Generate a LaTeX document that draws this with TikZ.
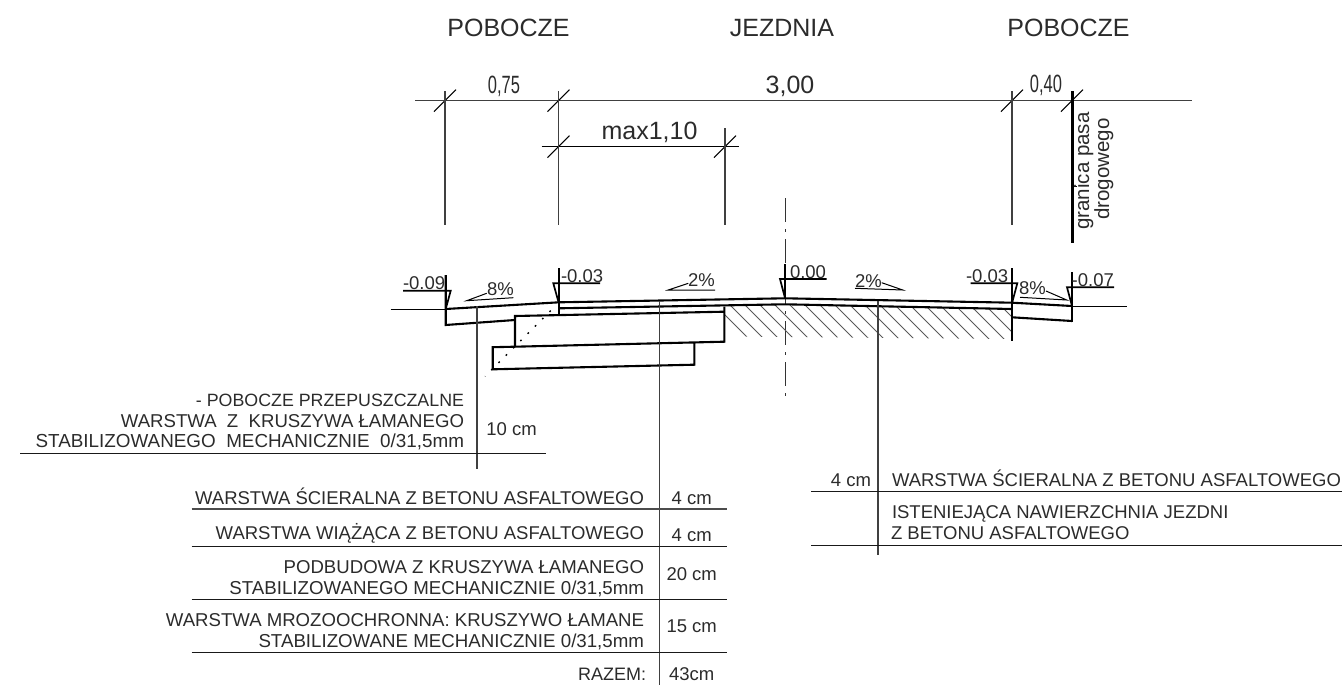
\documentclass[tikz,border=0pt]{standalone}
\usepackage{fontspec}
\setmainfont{Liberation Sans}
\usetikzlibrary{calc}
\definecolor{ink}{gray}{0.17}
\tikzset{
  thick line/.style={line width=2.1pt,black,line join=miter,line cap=butt},
  thin line/.style={line width=1.1pt,black!75},
  row line/.style={line width=1.2pt,black!90},
  hatch/.style={line width=0.8pt,black!65},
  txt/.style={inner sep=0pt,outer sep=0pt,text=ink,font=\fontsize{18.5}{22}\selectfont},
  big/.style={txt,font=\fontsize{25}{30}\selectfont},
  marks/.style={line width=1pt,black},
  level/.style={line width=1.7pt,black},
}
\newcommand{\tick}[1]{\draw[thin line,black] ($(#1)+(-11,11)$) -- ($(#1)+(11,-11)$);}
\newcommand{\fsz}[1]{\fontsize{#1}{22}\selectfont}
\begin{document}
\begin{tikzpicture}[x=1pt,y=-1pt]
\useasboundingbox (0,0) rectangle (1344,685);
% headings
\node[big,anchor=base] (h1) at (508.5,37) {POBOCZE};
\node[big,anchor=base] (h2) at (782,37) {JEZDNIA};
\node[big,anchor=base] (h3) at (1068.5,37) {POBOCZE};
% dimension lines
\coordinate (d1) at (445,100.7);
\coordinate (d2) at (558.5,100.7);
\coordinate (d3) at (1012,100.7);
\coordinate (d4) at (1072,100.7);
\coordinate (e1) at (558.5,146.7);
\coordinate (e2) at (725,146.7);
\draw[thin line] (415,100.7) -- (1192,100.7);
\draw[thin line,black] (541.5,146.7) -- (739,146.7);
\tick{d1}\tick{d2}\tick{d3}\tick{d4}\tick{e1}\tick{e2}
\draw[thin line] (445,91) -- (445,225);
\draw[thin line] (558.5,91) -- (558.5,225);
\draw[thin line] (725,128) -- (725,225);
\draw[thin line] (1012,91) -- (1012,225);
\draw[line width=2.1pt,black] (1072.5,91) -- (1072.5,243);
\draw[line width=1pt,black] (1072.5,186) -- (1077,186);
\node[txt,anchor=base,font=\fsz{25}] (l075) at (504,93) {\scalebox{0.66}[1]{0,75}};
\node[big,anchor=base] (l300) at (790,93) {3,00};
\node[txt,anchor=base,font=\fsz{25}] (l040) at (1046,92.7) {\scalebox{0.66}[1]{0,40}};
\node[big,anchor=base] (l110) at (649.5,139) {max1,10};
\node[txt,anchor=base,rotate=90,font=\fsz{20.5}] (g1) at (1089,171) {granica pasa};
\node[txt,anchor=base,rotate=90,font=\fsz{20.5}] (g2) at (1109,169) {drogowego};
% centre line
\draw[line width=1.1pt,black!80,dash pattern=on 24pt off 7pt on 3pt off 7pt] (785.3,198) -- (785.3,398);
% hatching
\begin{scope}
\clip (724.5,305) -- (785,304.3) -- (1012,309) -- (1012,339) -- (724.5,336.5) -- cycle;
\foreach \k in {-5,...,15} {
  \draw[hatch] ({785+15*\k},300) -- ({825+15*\k},340);
}
\end{scope}
% dotted
\draw[line width=1.4pt,black,dash pattern=on 1.7pt off 8.6pt] (550.7,310.7) -- (485,376.4);
% ground lines
\draw[marks] (390.7,309.3) -- (445.7,309.3);
\draw[marks] (1072,306.2) -- (1127,306.2);
% road body
\draw[thick line] (445.7,275) -- (445.7,325) -- (515,320);
\draw[thick line] (445.7,309) -- (559,302.3) -- (785,298.3) -- (1012,302.7) -- (1072,306);
\draw[thick line] (559,268) -- (559,313.5);
\draw[thick line] (559,308.3) -- (785,304.3) -- (1012,309);
\draw[thick line] (515,346.7) -- (515,316) -- (724.3,311.7);
\draw[thick line] (724.3,306.5) -- (724.3,341.7) -- (515,346.7) -- (492.7,347.2) -- (492.7,369.3) -- (694.3,364.7) -- (694.3,342.4);
\draw[thick line] (1012,268) -- (1012,341);
\draw[thick line] (1012,317.3) -- (1072,321);
\draw[thick line] (1072,272) -- (1072,322);
\draw[thick line] (785.3,264) -- (785.3,298.3);
% level marks
\draw[level] (403,290.7) -- (450.7,290.7) -- (446,308);
\draw[level] (600,283.3) -- (553.3,283.3) -- (558.5,302);
\draw[level] (826.7,279) -- (780,279) -- (785,298);
\draw[level] (970.7,283.3) -- (1017.3,283.3) -- (1012.3,302);
\draw[level] (1114,287.3) -- (1067,287.3) -- (1072,306);
\node[txt,anchor=base west] (n1) at (403,289) {-0.09};
\node[txt,anchor=base west] (n2) at (561,282.7) {-0.03};
\node[txt,anchor=base west] (n3) at (790,278.3) {0.00};
\node[txt,anchor=base west] (n4) at (966,282.7) {-0.03};
\node[txt,anchor=base west] (n5) at (1071.7,286.7) {-0.07};
% slope marks
\draw[marks] (486.7,293.3) -- (466.7,300.7) -- (513.3,297.7);
\node[txt,anchor=base west] (s1) at (487,295) {8\%};
\draw[marks] (688.3,283.3) -- (668.3,290) -- (715,290);
\node[txt,anchor=base west] (s2) at (688,286.7) {2\%};
\draw[marks] (881.7,282.7) -- (902.7,290) -- (855,288.3);
\node[txt,anchor=base west] (s3) at (855,287.3) {2\%};
\draw[marks] (1046,291) -- (1066.7,300) -- (1020,297.3);
\node[txt,anchor=base west] (s4) at (1019,294) {8\%};
% leaders
\draw[thin line] (477,306) -- (477,469);
\draw[thin line] (659.3,301) -- (659.3,685);
\draw[thin line] (878,301) -- (878,555);
% left notes
\draw[row line] (20,453.5) -- (546,453.5);
\node[txt,anchor=base east,font=\fsz{17.8}] (p1) at (464,406.7) {- POBOCZE PRZEPUSZCZALNE};
\node[txt,anchor=base east,font=\fsz{18.6}] (p2) at (464,427.3) {WARSTWA~~Z~~KRUSZYWA ŁAMANEGO};
\node[txt,anchor=base east,font=\fsz{18.85}] (p3) at (464,447.7) {STABILIZOWANEGO~~MECHANICZNIE~~0/31,5mm};
\node[txt,anchor=base] (p4) at (511.5,435) {10 cm};
% table
\draw[line width=1.8pt,black!70] (191.7,509) -- (727.3,509);
\foreach \yy in {546.7,599.3,652.7} { \draw[row line] (191.7,\yy) -- (727.3,\yy); }
\node[txt,anchor=base east] (t1) at (644,504) {WARSTWA ŚCIERALNA Z BETONU ASFALTOWEGO};
\node[txt,anchor=base] (c1) at (691.7,504) {4 cm};
\node[txt,anchor=base east] (t2) at (644,539.3) {WARSTWA WIĄŻĄCA Z BETONU ASFALTOWEGO};
\node[txt,anchor=base] (c2) at (691.7,541.7) {4 cm};
\node[txt,anchor=base east,font=\fsz{18.6}] (t3) at (644,573.3) {PODBUDOWA Z KRUSZYWA ŁAMANEGO};
\node[txt,anchor=base east,font=\fsz{18.7}] (t4) at (644,594.3) {STABILIZOWANEGO MECHANICZNIE 0/31,5mm};
\node[txt,anchor=base] (c3) at (691.7,580) {20 cm};
\node[txt,anchor=base east,font=\fsz{18.6}] (t5) at (644,626) {WARSTWA MROZOOCHRONNA: KRUSZYWO ŁAMANE};
\node[txt,anchor=base east,font=\fsz{18.7}] (t6) at (644,647.7) {STABILIZOWANE MECHANICZNIE 0/31,5mm};
\node[txt,anchor=base] (c4) at (691.7,632.7) {15 cm};
\node[txt,anchor=base east,font=\fsz{18}] (t7) at (646,680) {RAZEM:};
\node[txt,anchor=base] (c5) at (691.7,680) {43cm};
% right notes
\draw[row line] (811,491.7) -- (1342,491.7);
\draw[row line] (811,545.7) -- (1342,545.7);
\node[txt,anchor=base] (r0) at (851,486) {4 cm};
\node[txt,anchor=base west] (r1) at (892,486) {WARSTWA ŚCIERALNA Z BETONU ASFALTOWEGO};
\node[txt,anchor=base west] (r2) at (892,518) {ISTENIEJĄCA NAWIERZCHNIA JEZDNI};
\node[txt,anchor=base west] (r3) at (891,539.3) {Z BETONU ASFALTOWEGO};
\end{tikzpicture}
\end{document}
